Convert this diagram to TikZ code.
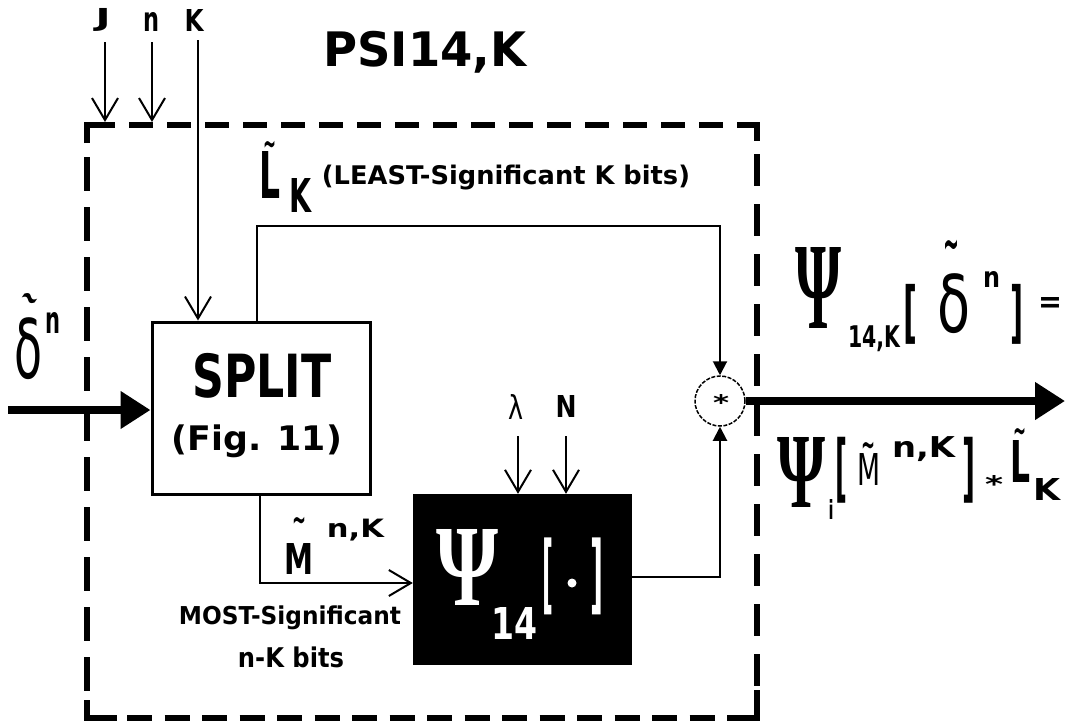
\documentclass[tikz,border=0pt]{standalone}
\usepackage{fontspec}
\usepackage{graphicx}
\setmainfont{DejaVu Sans}
\newfontfamily\psif{Liberation Serif}
\usetikzlibrary{arrows.meta}
\newcommand{\fb}[3]{\resizebox*{#1pt}{#2pt}{#3}}
\newdimen\tA \newdimen\tB \newdimen\tLo \newdimen\tHi
\newcommand{\tld}{\bfseries
  \tA=\XeTeXglyphbounds2 \XeTeXcharglyph`\~\relax
  \tB=\XeTeXglyphbounds4 \XeTeXcharglyph`\~\relax
  \ifdim\tA<0pt \tA=-\tA\fi
  \ifdim\tB<0pt \tB=-\tB\fi
  \ifdim\tA<\tB \tLo=\tA \tHi=\tB \else \tLo=\tB \tHi=\tA \fi
  \advance\tHi by -\tLo
  \raisebox{-\tLo}[\tHi][0pt]{\char`\~}}
% tilde stacked over a letter: {tilde w}{tilde h}{gap}{letter box}
\newcommand{\acc}[4]{\vbox{\offinterlineskip\halign{\hfil##\hfil\cr
  \fb{#1}{#2}{\tld}\cr\noalign{\kern#3pt}#4\cr}}}
\tikzset{
  lbl/.style={inner sep=0pt, outer sep=0pt},
  wlbl/.style={inner sep=0pt, outer sep=0pt, text=white},
  conn/.style={line width=2pt},
  heavy/.style={line width=8pt, -{Triangle[length=30pt,width=36pt]}},
  barb/.style={conn, -{Straight Barb[length=22pt,width=26pt]}},
  tri/.style={conn, -{Triangle[length=14pt,width=14pt]}},
  dbox/.style={line width=6pt, line cap=butt},
  corner/.style={line width=6pt, line cap=butt, line join=miter},
  blockbox/.style={draw, line width=3pt, inner sep=0pt, minimum width=218pt, minimum height=172pt},
  blackbox/.style={fill=black, draw=black, inner sep=0pt, minimum width=218pt, minimum height=170pt},
}
\begin{document}
\begin{tikzpicture}[x=1pt,y=-1pt]
\useasboundingbox (0,0) rectangle (1071,723);
\fill[white] (0,0) rectangle (1071,723);

% ---- dashed enclosure ----
\draw[dbox, dash pattern=on 24pt off 14pt] (91,125) -- (737,125);
\draw[dbox, dash pattern=on 34pt off 16pt] (87,157) -- (87,700);
\draw[dbox, dash pattern=on 32pt off 18pt] (757,154) -- (757,690);
\draw[dbox, dash pattern=on 25pt off 12.5pt] (127,718) -- (740,718);
\draw[corner] (87,143) -- (87,125) -- (115,125);
\draw[corner] (737,125) -- (757,125) -- (757,141);
\draw[corner] (87,700) -- (87,718) -- (117,718);
\draw[corner] (740,718) -- (757,718) -- (757,690);

% ---- blocks ----
\node[blockbox] (split) at (261,408) {};
\node[blackbox] (psibox) at (522,579) {};
\node[circle, draw, line width=1.5pt, minimum size=50pt, inner sep=0pt,
      dash pattern=on 4pt off 1.5pt] (mul) at (720,401) {};
\node[lbl] (star) at (721,402) {\fb{16}{16}{\bfseries *}};

% ---- labels ----
\node[lbl] (lJ) at (103,20) {\fb{15}{23}{\bfseries J}};
\node[lbl] (ln) at (151,22) {\fb{16}{19}{\bfseries n}};
\node[lbl] (lK) at (194,20) {\fb{19}{22}{\bfseries K}};
\node[lbl] (title) at (425,52) {\fb{203}{42}{\bfseries PSI14,K}};

\node[lbl] (LL) at (269.5,169.5) {\acc{13}{7}{3}{\fb{21}{47}{\bfseries L}}};
\node[lbl] (LLk) at (300,195) {\fb{22}{34}{\bfseries K}};
\node[lbl] (least) at (506,178) {\fb{368}{25}{\bfseries (LEAST-Significant K bits)}};

\node[lbl] (splitT) at (262,376) {\fb{139}{45}{\bfseries SPLIT}};
\node[lbl] (figT) at (257,441) {\fb{170}{33}{\bfseries (Fig. 11)}};

\node[lbl] (lam) at (516,407) {\fb{15}{25}{λ}};
\node[lbl] (lN) at (566,406) {\fb{21}{22}{\bfseries N}};

\node[lbl] (MM) at (299,545.5) {\acc{14}{7}{19}{\fb{29}{31}{\bfseries M}}};
\node[lbl] (MMs) at (355.5,530) {\fb{57}{22}{\bfseries n,K}};
\node[lbl] (most) at (290,618) {\fb{222}{24}{\bfseries MOST-Significant}};
\node[lbl] (nkbits) at (291,657) {\fb{106}{21}{\bfseries n-K bits}};

% inside black box
\node[wlbl] (bPsi) at (467.5,567) {\fb{62}{76}{\psif\bfseries Ψ}};
\node[wlbl] (b14) at (514,623) {\fb{46}{32}{\bfseries 14}};
\node[wlbl] (bLb) at (547.5,576.5) {\fb{11}{77}{\bfseries [}};
\node[wlbl] (bRb) at (596.5,576.5) {\fb{13}{77}{\bfseries ]}};
\fill[white] (572,583) circle (4.5pt);

% left input label
\node[lbl, rotate=-35] (ddt) at (30,299) {\fb{18}{8}{\tld}};
\node[lbl] (dd) at (29,349) {\fb{28}{62}{δ}};
\node[lbl] (ddn) at (52.5,322.5) {\fb{15}{21}{\bfseries n}};

% output label, upper
\node[lbl] (oPsi) at (818,288) {\fb{46}{81}{\psif\bfseries Ψ}};
\node[lbl] (o14) at (874,339) {\fb{52}{26}{\bfseries 14,K}};
\node[lbl] (oLb) at (910,314) {\fb{14}{60}{\bfseries [}};
\node[lbl] (odt) at (951.5,245) {\fb{16}{10}{\tld}};
\node[lbl] (od) at (953.5,304) {\fb{33}{60}{δ}};
\node[lbl] (odn) at (991.5,279) {\fb{17}{16}{\bfseries n}};
\node[lbl] (oRb) at (1016.5,314) {\fb{13}{60}{\bfseries ]}};
\node[lbl] (oeq) at (1050,304.5) {\fb{24}{15}{\bfseries =}};

% output label, lower
\node[lbl] (pPsi) at (801,472) {\fb{48}{70}{\psif\bfseries Ψ}};
\node[lbl] (pi) at (831,509) {\fb{5}{20}{\bfseries i}};
\node[lbl] (pLb) at (841,470) {\fb{12}{66}{\bfseries [}};
\node[lbl] (pM) at (868.5,463.5) {\acc{14}{7}{4}{\fb{23}{32}{M}}};
\node[lbl] (pnK) at (923.5,449.5) {\fb{63}{25}{\bfseries n,K}};
\node[lbl] (pRb) at (968.5,470) {\fb{13}{66}{\bfseries ]}};
\node[lbl] (pst) at (994,483.5) {\fb{18}{17}{\bfseries *}};
\node[lbl] (pL) at (1020,455) {\acc{13}{7}{5}{\fb{20}{42}{\bfseries L}}};
\node[lbl] (pK) at (1046.5,489) {\fb{27}{22}{\bfseries K}};

% ---- connectors ----
\coordinate (Jtop) at (105,42);
\coordinate (Jtip) at (105,122);
\coordinate (ntop) at (152,42);
\coordinate (ntip) at (152,122);
\coordinate (Ktop) at (198,40);
\draw[barb] (Jtop) -- (Jtip);
\draw[barb] (ntop) -- (ntip);
\draw[barb] (Ktop) -- (Ktop |- split.north);

\coordinate (Lc) at (257,226);
\draw[tri] (Lc |- split.north) -- (Lc) -- (Lc -| mul.north) -- (mul.north);

\coordinate (Mc) at (260,583);
\draw[barb] (Mc |- split.south) -- (Mc) -- (Mc -| psibox.west);

\coordinate (Oc) at (720,577);
\draw[tri] (Oc -| psibox.east) -- (Oc) -- (mul.south);

\coordinate (lamtop) at (518,436);
\coordinate (Ntop) at (566,436);
\draw[barb] (lamtop) -- (lamtop |- psibox.north);
\draw[barb] (Ntop) -- (Ntop |- psibox.north);

\coordinate (inL) at (8,410);
\draw[heavy] (inL) -- (inL -| split.west);
\coordinate (outR) at (1065,401);
\draw[heavy] (mul.east) -- (outR);
\end{tikzpicture}
\end{document}
